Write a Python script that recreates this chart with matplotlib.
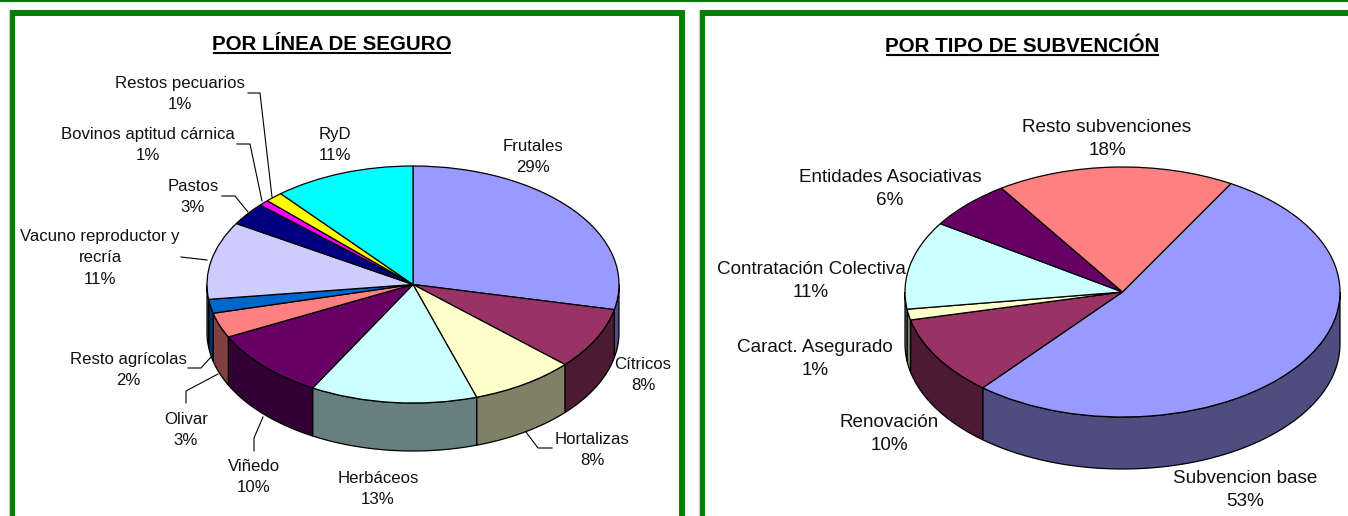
import numpy as np
import matplotlib
matplotlib.use('Agg')
import matplotlib.pyplot as plt

W, H = 1348, 516
GREEN = '#008000'

# left chart
linea_names = ['Frutales', 'Cítricos', 'Hortalizas', 'Herbáceos', 'Viñedo', 'Olivar', 'Resto agrícolas',
               'Vacuno reproductor y\nrecría', 'Pastos', 'Bovinos aptitud cárnica', 'Restos pecuarios', 'RyD']
linea_labels = ['29%', '8%', '8%', '13%', '10%', '3%', '2%', '11%', '3%', '1%', '1%', '11%']
# slice sizes as drawn (read from the rim, so a bit finer than the labels)
linea_values = [28.4, 8.4, 8.2, 13.1, 9.6, 3.4, 1.9, 10.6, 3.1, 0.8, 1.4, 11.1]
linea_colors = ['#9999FF', '#993366', '#FFFFCC', '#CCFFFF', '#660066', '#FF8080',
                '#0066CC', '#CCCCFF', '#000080', '#FF00FF', '#FFFF00', '#00FFFF']

# right chart
tipo_names = ['Subvencion base', 'Renovación', 'Caract. Asegurado', 'Contratación Colectiva',
              'Entidades Asociativas', 'Resto subvenciones']
tipo_labels = ['53%', '10%', '1%', '11%', '6%', '18%']
tipo_values = [52.8, 10.3, 1.4, 11.4, 6.4, 17.7]
tipo_colors = ['#9999FF', '#993366', '#FFFFCC', '#CCFFFF', '#660066', '#FF8080']


def pie3d(box, depth, values, colors, startangle):
    # box is the pixel box of the top face: x0, y0, x1, y1
    x0, y0, x1, y1 = box
    ry = (y1 - y0) / 2
    d = depth / ry
    # axes one depth taller than the top face, y in units of the radius
    ax = fig.add_axes([x0 / W, 1 - (y1 + depth) / H, (x1 - x0) / W, (y1 + depth - y0) / H])
    ax.pie(values, colors=colors, startangle=startangle, counterclock=False, radius=1,
           wedgeprops={'edgecolor': 'black', 'linewidth': 0.9, 'zorder': 3})
    ax.set_aspect('auto')
    ax.set_xlim(-1, 1)
    ax.set_ylim(-1 - d, 1)
    ax.axis('off')
    # side wall, only the part facing the viewer (angles -180 to 0)
    ends = startangle - np.cumsum(values) * 3.6
    starts = np.r_[startangle, ends[:-1]]
    for a, b, c in zip(starts, ends, colors):
        hi = min(a, 0)
        lo = max(b, -180)
        if hi <= lo:
            continue
        t = np.radians(np.linspace(lo, hi, 60))
        xs = np.r_[np.cos(t), np.cos(t[::-1])]
        ys = np.r_[np.sin(t), np.sin(t[::-1]) - d]
        dark = tuple(v * 0.5 for v in matplotlib.colors.to_rgb(c))
        ax.fill(xs, ys, facecolor=dark, edgecolor='black', linewidth=0.9, zorder=2, clip_on=False)
    return ax


fig = plt.figure(figsize=(W / 100, H / 100), dpi=100)
bg = fig.add_axes([0, 0, 1, 1])
bg.set_xlim(0, W)
bg.set_ylim(H, 0)
bg.axis('off')

# green frames
bg.fill_between([0, W], 0, 2.3, color=GREEN, lw=0)
bg.plot([8.5, 8.5], [H, 9.5], color='#c8c8c8', lw=0.8)
bg.plot([698.5, 698.5], [H, 9.5], color='#c8c8c8', lw=0.8)
bg.fill_between([9, 684.5], 10, 16, color=GREEN, lw=0)
bg.fill_between([699, W], 10, 16, color=GREEN, lw=0)
bg.fill_between([9, 15], 10, H, color=GREEN, lw=0)
bg.fill_between([679, 684.5], 10, H, color=GREEN, lw=0)
bg.fill_between([699, 705], 10, H, color=GREEN, lw=0)

pie3d((207, 166, 619, 403), 48, linea_values, linea_colors, 90)
pie3d((905, 167, 1340, 417), 52, tipo_values, tipo_colors, 60.1)

# overlay for text and leader lines
top = fig.add_axes([0, 0, 1, 1])
top.set_xlim(0, W)
top.set_ylim(H, 0)
top.axis('off')
top.patch.set_alpha(0)

FONT = 'Liberation Sans'

linea_pos = [(533, 157), (643, 375), (592, 450), (378, 489), (254, 477), (186, 430), (128, 370),
             (100, 258), (193, 197), (148, 145), (180, 94), (335, 145)]
for n, l, p in zip(linea_names, linea_labels, linea_pos):
    top.text(p[0], p[1], n + '\n' + l, ha='center', va='center', fontsize=12.1, family=FONT,
             color='#111111', linespacing=1.54, multialignment='center')

tipo_pos = [(1245, 490), (889, 434), (815, 359), (811, 281), (890, 189), (1107, 139)]
for n, l, p in zip(tipo_names, tipo_labels, tipo_pos):
    top.text(p[0], p[1], n + '\n' + l, ha='center', va='center', fontsize=13.6, family=FONT,
             color='#111111', linespacing=1.46, multialignment='center')

leaders = [
    ([248, 260, 272], [93, 93, 197]),
    ([237, 250, 262], [144, 144, 201]),
    ([222, 235, 248], [196, 196, 212]),
    ([181, 207], [257, 260]),
    ([188, 201, 211], [368, 368, 357]),
    ([186, 186, 218], [403, 391, 374]),
    ([254, 254, 263], [451, 438, 417]),
    ([552, 538, 526], [448, 448, 432]),
]
for xs, ys in leaders:
    top.plot(xs, ys, color='black', lw=0.8)

# titles, underline drawn by hand
for x0, x1, y, s in [(214, 450, 43, 'POR LÍNEA DE SEGURO'), (887, 1158, 44.5, 'POR TIPO DE SUBVENCIÓN')]:
    top.text((x0 + x1) / 2, y + 1.5, s, ha='center', va='center', fontsize=14.8, family=FONT, color='black',
             fontweight='bold')
    top.plot([x0, x1], [y + 10, y + 10], color='black', lw=1.5)

fig.savefig('out.png', dpi=100)
